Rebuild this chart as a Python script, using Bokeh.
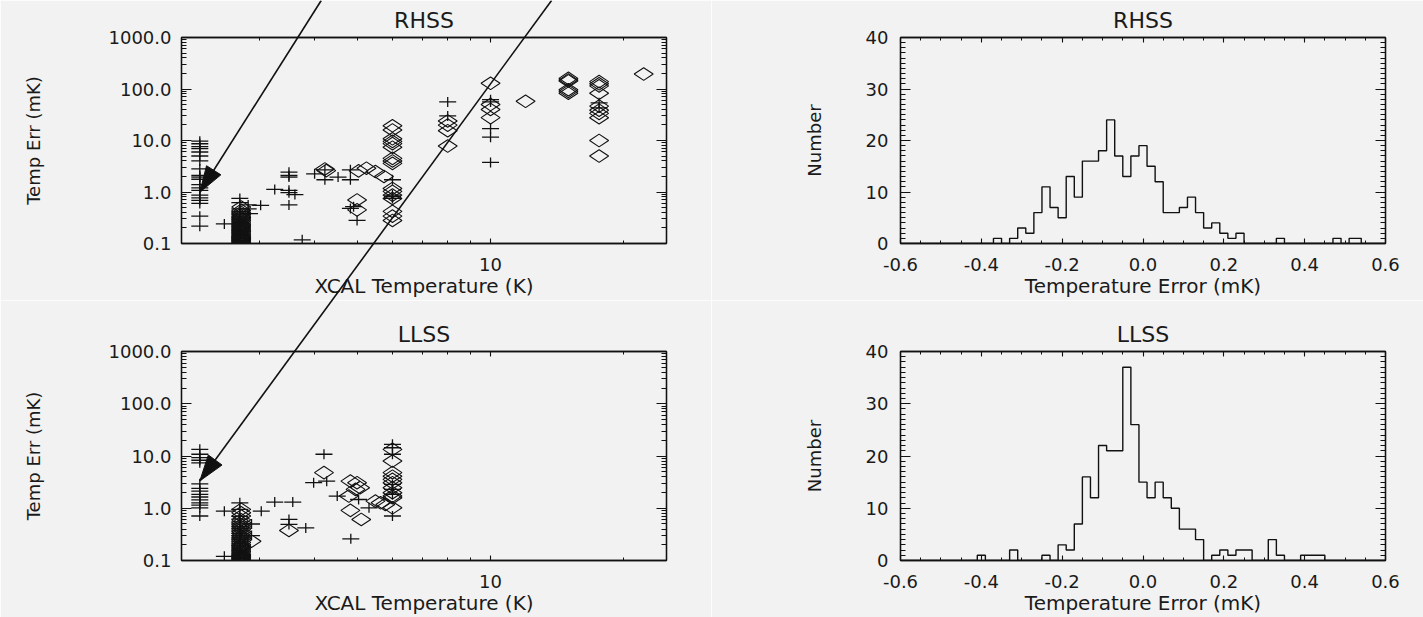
import numpy as np
from bokeh.plotting import figure
from bokeh.models import (LogAxis, LinearAxis, FixedTicker, PrintfTickFormatter, GridBox, Column,
                          Range1d, Arrow, Title, ColumnDataSource)
from bokeh.embed import file_html
from bokeh.resources import INLINE

BG = "#f2f2f2"
FONT = "DejaVu Sans"
INK = "#111111"
TXT = "#1a1a1a"

# ---------------- data: RHSS scatter (XCAL temperature K, temperature error mK)
rhss_plus_x = [2.2] * 20 + [2.5] + [2.83, 2.83, 2.85, 3.02, 3.25,
               3.5, 3.5, 3.5, 3.5, 3.5, 3.5, 3.61, 3.75, 4.0, 4.22, 4.22, 4.52,
               4.82, 4.82, 4.82, 4.9, 4.99, 6.0, 6.0, 6.0, 6.0, 8.0, 8.0,
               10.0, 10.0, 10.0, 10.0, 10.0, 17.6, 17.6]
rhss_plus_y = [9.7, 8.65, 7.6, 6.95, 5.98, 5.0, 4.03, 2.8, 2.09, 1.95, 1.77, 1.39,
               1.2, 1.08, 0.87, 0.77, 0.69, 0.60, 0.34, 0.217,
               0.24,
               0.56, 0.47, 0.38, 0.55, 1.12,
               2.43, 2.09, 1.95, 1.08, 0.97, 0.56, 0.89, 0.118, 2.25, 1.73, 2.7, 1.95,
               2.7, 1.73, 0.48, 0.52, 0.28, 1.73, 0.87, 0.75, 0.81, 56, 30,
               62, 56, 17, 11.6, 3.76, 53.8, 43]
rhss_dia_x = [4.22, 4.25, 5.03, 5.24, 5.49, 5.74, 4.99, 4.99] + [6.0] * 16 \
             + [8.0] * 4 + [10.0] * 4 + [12.0] + [15.0] * 6 + [17.6] * 10 + [22.2]
rhss_dia_y = [2.8, 2.6, 2.57, 2.9, 2.5, 2.0, 0.70, 0.45,
              19.3, 16, 10.8, 9.6, 8.7, 7.4, 4.5, 4.0, 3.6, 1.17, 1.03, 0.87, 0.75, 0.42, 0.34, 0.28,
              24, 19.9, 15.5, 7.8,
              129, 50, 40, 27.8,
              57.8,
              161, 150, 143, 97, 90, 83,
              139, 126, 115, 83, 46.5, 38.8, 33.6, 27.7, 10, 5.0,
              195]
# dense cluster at ~2.73 K
rhss_blob_x = 2.73
rhss_blob_dia_y = [0.10, 0.105, 0.11, 0.115, 0.12, 0.125, 0.13, 0.135, 0.14, 0.15, 0.16,
                   0.17, 0.18, 0.19, 0.20, 0.21, 0.22, 0.23, 0.24, 0.26, 0.28, 0.30,
                   0.32, 0.34, 0.37, 0.40, 0.44, 0.51]
rhss_blob_plus_y = [0.102, 0.108, 0.113, 0.118, 0.124, 0.13, 0.137, 0.145, 0.155, 0.165,
                    0.175, 0.185, 0.2, 0.215, 0.23, 0.25, 0.27, 0.29, 0.31, 0.33, 0.36,
                    0.39, 0.42, 0.47, 0.62, 0.75]

# ---------------- data: LLSS scatter
llss_plus_x = [2.2] * 15 + [2.5, 2.5] + [2.88, 2.88, 3.03, 3.25, 3.57,
               3.5, 3.5, 3.82, 4.2, 3.98, 4.26, 4.5, 5.03, 5.31, 4.83] + [6.0] * 7
llss_plus_y = [13.4, 10.8, 9.3, 8.3, 7.4, 2.94, 2.4, 2.13, 1.84, 1.64, 1.45, 1.27, 1.15, 1.02, 0.71,
               0.88, 0.12,
               0.5, 0.3, 0.88, 1.31, 1.31, 0.61, 0.49, 0.42, 10.8, 3.08, 3.3, 1.71, 1.47, 1.02, 0.26,
               16.7, 14.4, 10.8, 2.86, 2.3, 1.84, 0.71]
llss_dia_x = [2.88, 3.5, 4.2, 4.82, 4.99, 5.07, 4.95, 4.78, 4.82, 5.1,
              5.49, 5.64, 5.78] + [6.0] * 11
llss_dia_y = [0.234, 0.376, 4.8, 3.3, 3.08, 2.47, 2.3, 1.71, 0.91, 0.61,
              1.37, 1.27, 1.18,
              13.4, 8.0, 4.8, 4.1, 3.57, 3.08, 2.47, 1.98, 1.71, 1.59, 1.02]
llss_blob_x = 2.73
llss_blob_dia_y = [0.10, 0.105, 0.11, 0.115, 0.12, 0.125, 0.13, 0.14, 0.15, 0.16, 0.17,
                   0.18, 0.19, 0.20, 0.22, 0.24, 0.26, 0.28, 0.30, 0.33, 0.36, 0.40,
                   0.44, 0.48, 0.53, 0.6, 0.71, 0.82, 0.95]
llss_blob_plus_y = [0.102, 0.108, 0.114, 0.12, 0.127, 0.135, 0.145, 0.155, 0.165, 0.18,
                    0.195, 0.21, 0.23, 0.25, 0.27, 0.3, 0.33, 0.37, 0.41, 0.45, 0.5,
                    0.55, 0.62, 0.7, 0.95, 1.27]

# ---------------- data: histograms of temperature error (mK)
bin_width = 0.02
rhss_first_edge = -0.37
rhss_counts = [1, 0, 1, 3, 2, 6, 11, 7, 5, 13, 9, 16, 16, 18, 24, 17, 13, 17, 19, 15,
               12, 6, 6, 7, 9, 6, 3, 4, 2, 1, 2, 0, 0, 0, 0, 1, 0, 0, 0, 0,
               0, 0, 1, 0, 1]
rhss_last_edge = 0.54
llss_first_edge = -0.41
llss_counts = [1, 0, 0, 0, 2, 0, 0, 0, 1, 0, 3, 2, 7, 16, 12, 22, 21, 21, 37, 26,
               15, 12, 15, 12, 10, 6, 6, 4, 0, 1, 2, 1, 2, 2, 0, 0, 4, 1, 0, 0,
               1, 1, 1]
llss_last_edge = 0.45

# ---------------- axis ticks
log_x_major = [10]
log_x_minor = [2, 3, 4, 5, 6, 7, 8, 9, 20]
log_y_major = [0.1, 1, 10, 100, 1000]
log_y_minor = [0.2, 0.3, 0.4, 0.5, 0.6, 0.7, 0.8, 0.9, 2, 3, 4, 5, 6, 7, 8, 9,
               20, 30, 40, 50, 60, 70, 80, 90, 200, 300, 400, 500, 600, 700, 800, 900]
hist_x_major = [-0.6, -0.4, -0.2, 0.0, 0.2, 0.4, 0.6]
hist_x_minor = [-0.55, -0.5, -0.45, -0.35, -0.3, -0.25, -0.15, -0.1, -0.05,
                0.05, 0.1, 0.15, 0.25, 0.3, 0.35, 0.45, 0.5, 0.55]
hist_y_major = [0, 10, 20, 30, 40]
hist_y_minor = [v for v in range(1, 40) if v % 10 != 0]

# ---------------- arrows: (XCAL K, Temp Err mK) in the RHSS panel's data space;
# the second arrow's tip is given in LLSS data space
arrow1_start = (4.14, 4853.0)
arrow1_end = (2.2, 1.08)
arrow2_start = (13.74, 4853.0)
arrow2_end_llss = (2.2, 3.42)

# ---------------- layout geometry (pixels)
W, H = 1423, 617
LEFT_W, RIGHT_W = 711, 712
TOP_H, BOT_H = 300, 317
FRAME_L, FRAME_W = 181, 485
FRAME_H = 210
TOP_FRAME_T = 36
BOT_FRAME_T = 51
X_RANGE = (2, 25)
Y_RANGE = (0.1, 1000)
HEAD_LEN, HEAD_WID = 26, 17


def style_axis(ax, tick_in, minor_in, ticks, labels=True, label_size="18px", standoff=10):
    ax.major_tick_in = tick_in
    ax.major_tick_out = 0
    ax.minor_tick_in = minor_in
    ax.minor_tick_out = 0
    ax.axis_line_color = INK
    ax.axis_line_width = 1.3
    ax.major_tick_line_color = INK
    ax.minor_tick_line_color = INK
    ax.major_tick_line_width = 1.1
    ax.minor_tick_line_width = 1.0
    ax.major_label_text_font = FONT
    ax.major_label_text_color = TXT
    ax.axis_label_text_font = FONT
    ax.axis_label_text_font_style = "normal"
    ax.axis_label_text_color = TXT
    if labels:
        ax.major_label_text_font_size = label_size
        ax.major_label_standoff = standoff
    else:
        ax.major_label_text_font_size = "1px"
        ax.major_label_overrides = {t: "" for t in ticks}
        ax.major_label_standoff = 0


def add_title(p, text):
    t = Title(text=text, align="center", text_font=FONT, text_font_size="22px",
              text_font_style="normal", text_color=TXT, standoff=10)
    p.add_layout(t, "above")


def scatter_panel(title, px, py, dx, dy, blob_x, blob_dia_y, blob_plus_y, height, mtop):
    p = figure(width=LEFT_W, height=height, x_axis_type="log", y_axis_type="log",
               x_range=Range1d(*X_RANGE), y_range=Range1d(*Y_RANGE),
               output_backend="svg", toolbar_location=None, title=None,
               min_border_left=FRAME_L, min_border_right=LEFT_W - FRAME_L - FRAME_W,
               min_border_top=mtop, min_border_bottom=height - mtop - FRAME_H,
               background_fill_color=BG, border_fill_color=BG,
               outline_line_color=INK, outline_line_width=1.3)
    p.xgrid.visible = False
    p.ygrid.visible = False
    xa = p.xaxis[0]
    xa.ticker = FixedTicker(ticks=log_x_major, minor_ticks=log_x_minor)
    xa.formatter = PrintfTickFormatter(format="%d")
    xa.axis_label = "XCAL Temperature (K)"
    xa.axis_label_text_font_size = "20px"
    xa.axis_label_standoff = 0
    style_axis(xa, 5, 3, log_x_major, standoff=14)
    ya = p.yaxis[0]
    ya.ticker = FixedTicker(ticks=log_y_major, minor_ticks=log_y_minor)
    ya.formatter = PrintfTickFormatter(format="%.1f")
    ya.axis_label = "Temp Err (mK)"
    ya.axis_label_text_font_size = "18px"
    ya.axis_label_standoff = 62
    style_axis(ya, 10, 5, log_y_major)
    top = LogAxis(ticker=FixedTicker(ticks=log_x_major, minor_ticks=log_x_minor))
    style_axis(top, 5, 3, log_x_major, labels=False)
    p.add_layout(top, "above")
    right = LogAxis(ticker=FixedTicker(ticks=log_y_major, minor_ticks=log_y_minor))
    style_axis(right, 10, 5, log_y_major, labels=False)
    p.add_layout(right, "right")
    add_title(p, title)

    all_dx = list(dx) + [blob_x] * len(blob_dia_y)
    all_dy = list(dy) + list(blob_dia_y)
    all_px = list(px) + [blob_x - 0.02] * len(blob_plus_y)
    all_py = list(py) + list(blob_plus_y)
    ps = ColumnDataSource(dict(x=all_px, y=all_py))
    ds = ColumnDataSource(dict(x=all_dx, y=all_dy))
    p.scatter("x", "y", source=ds, marker="diamond", angle=np.pi / 2, size=19,
              fill_color=None, line_color=INK, line_width=1.1)
    p.scatter("x", "y", source=ps, marker="dash", size=17, line_color=INK, line_width=1.3)
    p.scatter("x", "y", source=ps, marker="dash", angle=np.pi / 2, size=10,
              line_color=INK, line_width=1.3)
    return p


def hist_panel(title, first_edge, counts, last_edge, height, mtop):
    p = figure(width=RIGHT_W, height=height, x_range=Range1d(-0.6, 0.6), y_range=Range1d(0, 40),
               output_backend="svg", toolbar_location=None, title=None,
               min_border_left=900 - LEFT_W, min_border_right=RIGHT_W - (900 - LEFT_W) - FRAME_W,
               min_border_top=mtop, min_border_bottom=height - mtop - FRAME_H,
               background_fill_color=BG, border_fill_color=BG,
               outline_line_color=INK, outline_line_width=1.3)
    p.xgrid.visible = False
    p.ygrid.visible = False
    xa = p.xaxis[0]
    xa.ticker = FixedTicker(ticks=hist_x_major, minor_ticks=hist_x_minor)
    xa.formatter = PrintfTickFormatter(format="%.1f")
    xa.axis_label = "Temperature Error (mK)"
    xa.axis_label_text_font_size = "20px"
    xa.axis_label_standoff = 0
    style_axis(xa, 5, 3, hist_x_major, standoff=14)
    ya = p.yaxis[0]
    ya.ticker = FixedTicker(ticks=hist_y_major, minor_ticks=hist_y_minor)
    ya.axis_label = "Number"
    ya.axis_label_text_font_size = "18px"
    ya.axis_label_standoff = 38
    style_axis(ya, 10, 5, hist_y_major, standoff=12)
    top = LinearAxis(ticker=FixedTicker(ticks=hist_x_major, minor_ticks=hist_x_minor))
    style_axis(top, 5, 3, hist_x_major, labels=False)
    p.add_layout(top, "above")
    right = LinearAxis(ticker=FixedTicker(ticks=hist_y_major, minor_ticks=hist_y_minor))
    style_axis(right, 10, 5, hist_y_major, labels=False)
    p.add_layout(right, "right")
    add_title(p, title)

    edges = [first_edge + i * bin_width for i in range(len(counts))]
    xs = [-0.6] + edges + [last_edge, 0.6]
    ys = [0] + list(counts) + [0, 0]
    p.step(xs, ys, mode="after", line_color=INK, line_width=1.4)
    return p


p1 = scatter_panel("RHSS", rhss_plus_x, rhss_plus_y, rhss_dia_x, rhss_dia_y,
                   rhss_blob_x, rhss_blob_dia_y, rhss_blob_plus_y, TOP_H, TOP_FRAME_T)
p2 = hist_panel("RHSS", rhss_first_edge, rhss_counts, rhss_last_edge, TOP_H, TOP_FRAME_T)
p3 = scatter_panel("LLSS", llss_plus_x, llss_plus_y, llss_dia_x, llss_dia_y,
                   llss_blob_x, llss_blob_dia_y, llss_blob_plus_y, BOT_H, BOT_FRAME_T)
p4 = hist_panel("LLSS", llss_first_edge, llss_counts, llss_last_edge, BOT_H, BOT_FRAME_T)

# transparent overlay spanning the whole page, sharing the RHSS panel's log scales
# (extended beyond its frame), so that the arrows can cross panel borders
kx = (np.log10(X_RANGE[1]) - np.log10(X_RANGE[0])) / FRAME_W
ky = (np.log10(Y_RANGE[1]) - np.log10(Y_RANGE[0])) / FRAME_H
ov_x = (10 ** (np.log10(X_RANGE[0]) - FRAME_L * kx),
        10 ** (np.log10(X_RANGE[0]) + (W - FRAME_L) * kx))
ov_y = (10 ** (np.log10(Y_RANGE[0]) - (H - TOP_FRAME_T - FRAME_H) * ky),
        10 ** (np.log10(Y_RANGE[1]) + TOP_FRAME_T * ky))
llss_shift = 10 ** (-((TOP_H + BOT_FRAME_T) - TOP_FRAME_T) * ky)

ov = figure(width=W, height=H, x_axis_type="log", y_axis_type="log",
            x_range=Range1d(*ov_x), y_range=Range1d(*ov_y),
            x_axis_location=None, y_axis_location=None, title=None,
            output_backend="svg", toolbar_location=None, min_border=0,
            min_border_left=0, min_border_right=0, min_border_top=0, min_border_bottom=0,
            outline_line_color=None, background_fill_color=None, border_fill_color=None)
ov.grid.visible = False


def arrow_head(start, end):
    """Filled, elongated head polygon at `end`, pointing along start->end."""
    lx0, ly0 = np.log10(ov_x[0]), np.log10(ov_y[0])
    sx, sy = (np.log10(start[0]) - lx0) / kx, (np.log10(start[1]) - ly0) / ky
    ex, ey = (np.log10(end[0]) - lx0) / kx, (np.log10(end[1]) - ly0) / ky
    d = np.hypot(ex - sx, ey - sy)
    ux, uy = (ex - sx) / d, (ey - sy) / d
    bx, by = ex - HEAD_LEN * ux, ey - HEAD_LEN * uy
    nx, ny = -uy, ux
    pts = [(ex, ey), (bx + HEAD_WID / 2 * nx, by + HEAD_WID / 2 * ny),
           (bx - HEAD_WID / 2 * nx, by - HEAD_WID / 2 * ny)]
    xs = [10 ** (lx0 + q[0] * kx) for q in pts]
    ys = [10 ** (ly0 + q[1] * ky) for q in pts]
    return xs, ys


arrow2_end = (arrow2_end_llss[0], arrow2_end_llss[1] * llss_shift)
for a_start, a_end in [(arrow1_start, arrow1_end), (arrow2_start, arrow2_end)]:
    ov.add_layout(Arrow(end=None, x_start=a_start[0], y_start=a_start[1],
                        x_end=a_end[0], y_end=a_end[1], line_color=INK, line_width=1.6))
    hx, hy = arrow_head(a_start, a_end)
    ov.patch(hx, hy, fill_color=INK, line_color=INK, line_width=1)

panels = GridBox(children=[(p1, 0, 0), (p2, 0, 1), (p3, 1, 0), (p4, 1, 1)], spacing=0)
overlay = Column(children=[ov], spacing=0)
page = GridBox(children=[(panels, 0, 0), (overlay, 0, 0)], spacing=0)
open("out.html", "w").write(file_html(page, INLINE))
